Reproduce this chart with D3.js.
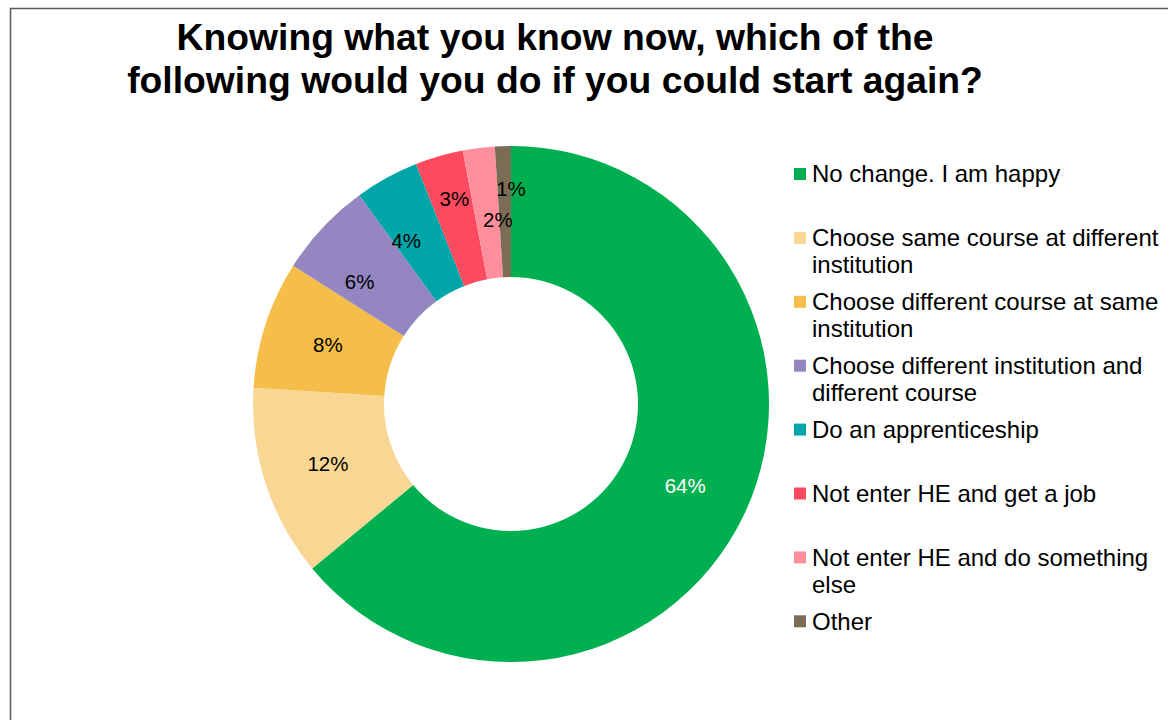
<!DOCTYPE html>
<html>
<head>
<meta charset="utf-8">
<script src="https://cdn.jsdelivr.net/npm/d3@7"></script>
<style>
  html, body { margin: 0; padding: 0; background: #fff; }
  svg { display: block; font-family: "Liberation Sans", Arial, sans-serif; }
</style>
</head>
<body>
<svg id="chart" width="1168" height="720"></svg>
<script>
// Survey responses (percent of respondents)
const categories = [
  "No change. I am happy",
  "Choose same course at different institution",
  "Choose different course at same institution",
  "Choose different institution and different course",
  "Do an apprenticeship",
  "Not enter HE and get a job",
  "Not enter HE and do something else",
  "Other"
];
const values = [64, 12, 8, 6, 4, 3, 2, 1];
const legendLines = [
  ["No change. I am happy"],
  ["Choose same course at different", "institution"],
  ["Choose different course at same", "institution"],
  ["Choose different institution and", "different course"],
  ["Do an apprenticeship"],
  ["Not enter HE and get a job"],
  ["Not enter HE and do something", "else"],
  ["Other"]
];
const titleLines = [
  "Knowing what you know now, which of the",
  "following would you do if you could start again?"
];

// Presentation
const colors = ["#00B050", "#F8D794", "#F5BD4A", "#9486C1", "#00A5A8", "#FE4A5E", "#FF8F9D", "#7B6C56"];
const labelColors = ["#ffffff", "#000", "#000", "#000", "#000", "#000", "#000", "#000"];
// small nudges so the labels of thin slices do not collide
const labelNudge = [[0, 0], [0, 0], [0, 0], [-11, 10], [-12, 6], [-3, -20], [11, 7], [6, -23]];

const svg = d3.select("#chart");

// outer frame
svg.append("rect")
  .attr("x", 10.5).attr("y", 8.5)
  .attr("width", 1300).attr("height", 900)
  .attr("fill", "none").attr("stroke", "#595959").attr("stroke-width", 1.5);

// title
svg.append("text")
  .attr("x", 555).attr("y", 50)
  .attr("text-anchor", "middle")
  .attr("font-size", 37.3).attr("font-weight", "bold").attr("fill", "#000")
  .selectAll("tspan").data(titleLines).join("tspan")
  .attr("x", 555).attr("dy", (d, i) => i === 0 ? 0 : 43)
  .text(d => d);

// donut
const cx = 511, cy = 404, rOuter = 258, rInner = 127;
const pie = d3.pie().sort(null).value(d => d);
const arcs = pie(values);
const arc = d3.arc().innerRadius(rInner).outerRadius(rOuter);
const labelArc = d3.arc().innerRadius((rInner + rOuter) / 2).outerRadius((rInner + rOuter) / 2);

const g = svg.append("g").attr("transform", `translate(${cx},${cy})`);
g.selectAll("path.slice").data(arcs).join("path")
  .attr("class", "slice")
  .attr("d", arc)
  .attr("fill", (d, i) => colors[i]);

g.selectAll("text.lbl").data(arcs).join("text")
  .attr("class", "lbl")
  .attr("transform", (d, i) => {
    const [x, y] = labelArc.centroid(d);
    return `translate(${x + labelNudge[i][0]},${y + labelNudge[i][1]})`;
  })
  .attr("text-anchor", "middle")
  .attr("dy", "0.35em")
  .attr("font-size", 20.5)
  .attr("fill", (d, i) => labelColors[i])
  .text(d => d.data + "%");

// legend
const legendX = 794, legendY0 = 174, legendStep = 63.9, lineH = 27, sw = 12;
const lg = svg.append("g");
const items = lg.selectAll("g.item").data(categories).join("g")
  .attr("class", "item")
  .attr("transform", (d, i) => `translate(${legendX},${legendY0 + i * legendStep})`);
items.append("rect")
  .attr("x", 0).attr("y", -sw / 2)
  .attr("width", sw).attr("height", sw)
  .attr("fill", (d, i) => colors[i]);
items.append("text")
  .attr("font-size", 24).attr("fill", "#000")
  .selectAll("tspan").data((d, i) => legendLines[i]).join("tspan")
  .attr("x", 18)
  .attr("y", (d, j) => j * lineH)
  .attr("dy", "0.35em")
  .text(d => d);
</script>
</body>
</html>
